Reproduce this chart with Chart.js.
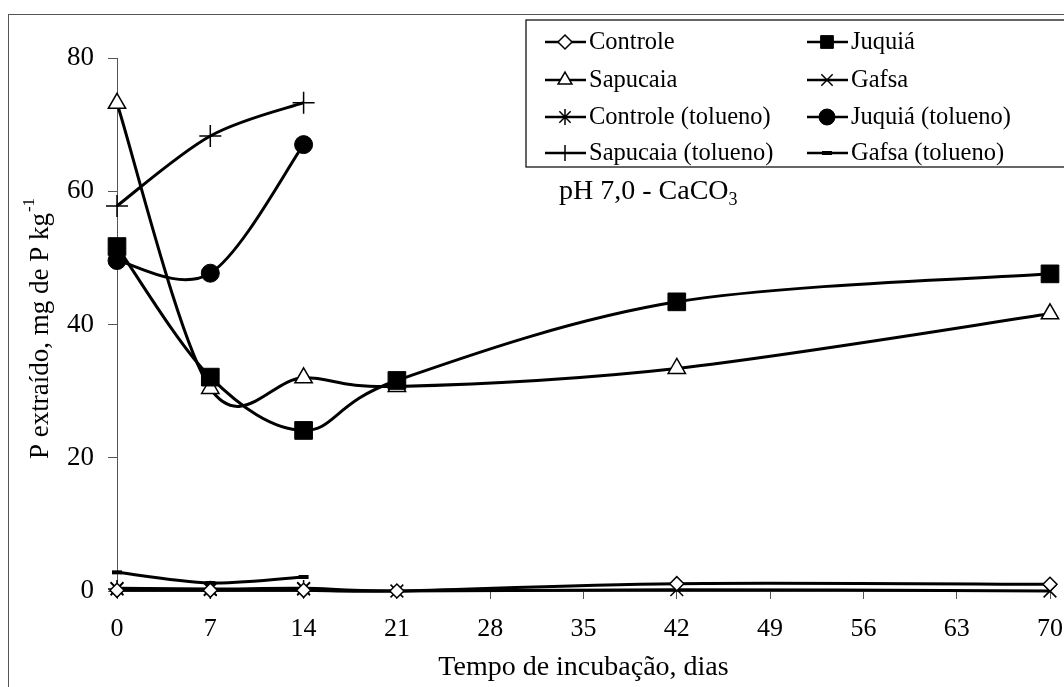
<!DOCTYPE html>
<html>
<head>
<meta charset="utf-8">
<script src="https://cdn.jsdelivr.net/npm/chart.js@4/dist/chart.umd.min.js"></script>
<style>
  html, body { margin: 0; padding: 0; background: #fff; overflow: hidden; }
  #wrap { position: relative; width: 1064px; height: 687px; }
  #frame { position: absolute; left: 8px; top: 14px; width: 1080px; height: 700px; border: 1px solid #555; box-sizing: border-box; }
  canvas { position: absolute; left: 0; top: 0; }
</style>
</head>
<body>
<div id="wrap">
  <div id="frame"></div>
  <canvas id="grafico" width="1064" height="687"></canvas>
</div>
<script>
// dias de incubação
var dias = [0, 7, 14, 21, 42, 70];
var diasTolueno = [0, 7, 14];
var xTicks = [0, 7, 14, 21, 28, 35, 42, 49, 56, 63, 70];

// P extraído (mg de P kg-1)
var controle = [0.1, 0.1, 0.1, 0.0, 1.1, 1.0];
var juquia = [51.7, 32.1, 24.1, 31.6, 43.4, 47.6];
var sapucaia = [73.2, 30.4, 32.0, 30.7, 33.4, 41.6];
var gafsa = [0.4, 0.3, 0.4, 0.0, 0.2, 0.0];
var controleTol = [0.3, 0.2, 0.3];
var juquiaTol = [49.6, 47.7, 67.0];
var sapucaiaTol = [57.8, 68.3, 73.3];
var gafsaTol = [2.8, 1.2, 2.1];

var FONTE = '"Liberation Serif", "Times New Roman", serif';

function pares(xs, ys) {
    return ys.map(function (v, i) { return { x: xs[i], y: v }; });
}

function serie(label, xs, ys, estilo, raio, fundo, espessura) {
    return {
        label: label,
        data: pares(xs, ys),
        borderColor: '#000',
        borderWidth: 3,
        tension: 0.4,
        fill: false,
        clip: false,
        pointStyle: estilo,
        pointRadius: raio,
        pointHoverRadius: raio,
        pointBackgroundColor: fundo,
        pointBorderColor: '#000',
        pointBorderWidth: espessura
    };
}

var datasets = [
    serie('Controle', dias, controle, 'rectRot', 7, '#fff', 1.5),
    serie('Juquiá', dias, juquia, 'rect', 12.5, '#000', 1),
    serie('Sapucaia', dias, sapucaia, 'triangle', 10, '#fff', 1.5),
    serie('Gafsa', dias, gafsa, 'crossRot', 9, '#000', 1.5),
    serie('Controle (tolueno)', diasTolueno, controleTol, 'star', 9, '#000', 1.5),
    serie('Juquiá (tolueno)', diasTolueno, juquiaTol, 'circle', 9, '#000', 1),
    serie('Sapucaia (tolueno)', diasTolueno, sapucaiaTol, 'cross', 11, '#000', 1.5),
    serie('Gafsa (tolueno)', diasTolueno, gafsaTol, 'line', 5, '#000', 4)
];

// suavização no estilo do Excel (Catmull-Rom), aplicada aos pontos de controle da linha
var suaviza = {
    id: 'suaviza',
    beforeDatasetDraw: function (chart, args) {
        var line = args.meta.dataset;
        var pts = args.meta.data;
        if (!line || !line.updateControlPoints) return;
        line.updateControlPoints(chart.chartArea, 'x');
        var n = pts.length;
        for (var i = 0; i < n; i++) {
            var a = pts[Math.max(i - 1, 0)];
            var b = pts[Math.min(i + 1, n - 1)];
            var tx = (b.x - a.x) / 6, ty = (b.y - a.y) / 6;
            pts[i].cp1x = pts[i].x - tx;
            pts[i].cp1y = pts[i].y - ty;
            pts[i].cp2x = pts[i].x + tx;
            pts[i].cp2y = pts[i].y + ty;
        }
    }
};

// legenda em duas colunas, rótulo pH e título do eixo y com sobrescrito
var extras = {
    id: 'extras',
    afterDraw: function (chart) {
        var ctx = chart.ctx;
        ctx.save();
        ctx.strokeStyle = '#000';
        ctx.lineWidth = 1.2;
        ctx.fillStyle = '#fff';
        ctx.fillRect(526, 20, 560, 147);
        ctx.strokeRect(526, 20, 560, 147);

        var cols = [545, 807];
        var rows = [42, 80, 117, 153];
        chart.data.datasets.forEach(function (ds, i) {
            var x0 = cols[i % 2];
            var y0 = rows[Math.floor(i / 2)];
            ctx.strokeStyle = '#000';
            ctx.lineWidth = 2.5;
            ctx.beginPath();
            ctx.moveTo(x0, y0);
            ctx.lineTo(x0 + 41, y0);
            ctx.stroke();
            if (Chart.helpers && Chart.helpers.drawPoint) {
                ctx.fillStyle = ds.pointBackgroundColor;
                ctx.strokeStyle = '#000';
                ctx.lineWidth = ds.pointBorderWidth;
                Chart.helpers.drawPoint(ctx, {
                    pointStyle: ds.pointStyle,
                    radius: ds.pointStyle === 'rect' ? 9 : Math.min(ds.pointRadius, 8),
                    rotation: 0,
                    borderWidth: ds.pointBorderWidth
                }, x0 + 20, y0);
            }
            ctx.fillStyle = '#000';
            ctx.font = '24.5px ' + FONTE;
            ctx.textBaseline = 'middle';
            ctx.textAlign = 'left';
            ctx.fillText(ds.label, x0 + 44, y0 + 1);
        });

        // pH 7,0 - CaCO3
        ctx.fillStyle = '#000';
        ctx.textBaseline = 'alphabetic';
        ctx.font = '28px ' + FONTE;
        var txt = 'pH 7,0 - CaCO';
        ctx.fillText(txt, 559, 199);
        var w = ctx.measureText(txt).width;
        ctx.font = '18px ' + FONTE;
        ctx.fillText('3', 559 + w, 205);

        // título do eixo y
        ctx.translate(41, 329);
        ctx.rotate(-Math.PI / 2);
        ctx.font = '27px ' + FONTE;
        var t1 = 'P extraído, mg de P kg';
        var w1 = ctx.measureText(t1).width;
        ctx.font = '17px ' + FONTE;
        var w2 = ctx.measureText('-1').width;
        var inicio = -(w1 + w2) / 2;
        ctx.font = '27px ' + FONTE;
        ctx.textBaseline = 'middle';
        ctx.fillText(t1, inicio, 0);
        ctx.font = '17px ' + FONTE;
        ctx.fillText('-1', inicio + w1 + 1, -11);
        ctx.restore();
    }
};

new Chart(document.getElementById('grafico').getContext('2d'), {
    type: 'line',
    data: { datasets: datasets },
    plugins: [suaviza, extras],
    options: {
        responsive: false,
        animation: false,
        layout: { padding: { left: 0, right: 14, top: 58, bottom: 0 } },
        plugins: {
            legend: { display: false },
            tooltip: { enabled: false }
        },
        scales: {
            x: {
                type: 'linear',
                min: 0,
                max: 70,
                afterFit: function (scale) {
                    scale.height = 96;
                    scale.paddingLeft = 0;
                    scale.paddingRight = 0;
                },
                afterBuildTicks: function (scale) {
                    scale.ticks = xTicks.map(function (v) { return { value: v }; });
                },
                grid: { display: true, drawOnChartArea: false, tickLength: 8, color: '#555', lineWidth: 1 },
                border: { color: '#555', width: 1 },
                ticks: { color: '#000', font: { family: FONTE, size: 26 }, padding: 15, maxRotation: 0, autoSkip: false },
                title: { display: true, text: 'Tempo de incubação, dias', color: '#000', font: { family: FONTE, size: 28 }, padding: { top: 0, bottom: 3 } }
            },
            y: {
                min: 0,
                max: 80,
                afterFit: function (scale) {
                    scale.width = 117;
                    scale.paddingTop = 0;
                    scale.paddingBottom = 0;
                },
                grid: { display: true, drawOnChartArea: false, tickLength: 9, color: '#555', lineWidth: 1 },
                border: { color: '#555', width: 1 },
                ticks: { stepSize: 20, color: '#000', font: { family: FONTE, size: 27 }, padding: 14 }
            }
        }
    }
});
</script>
</body>
</html>
